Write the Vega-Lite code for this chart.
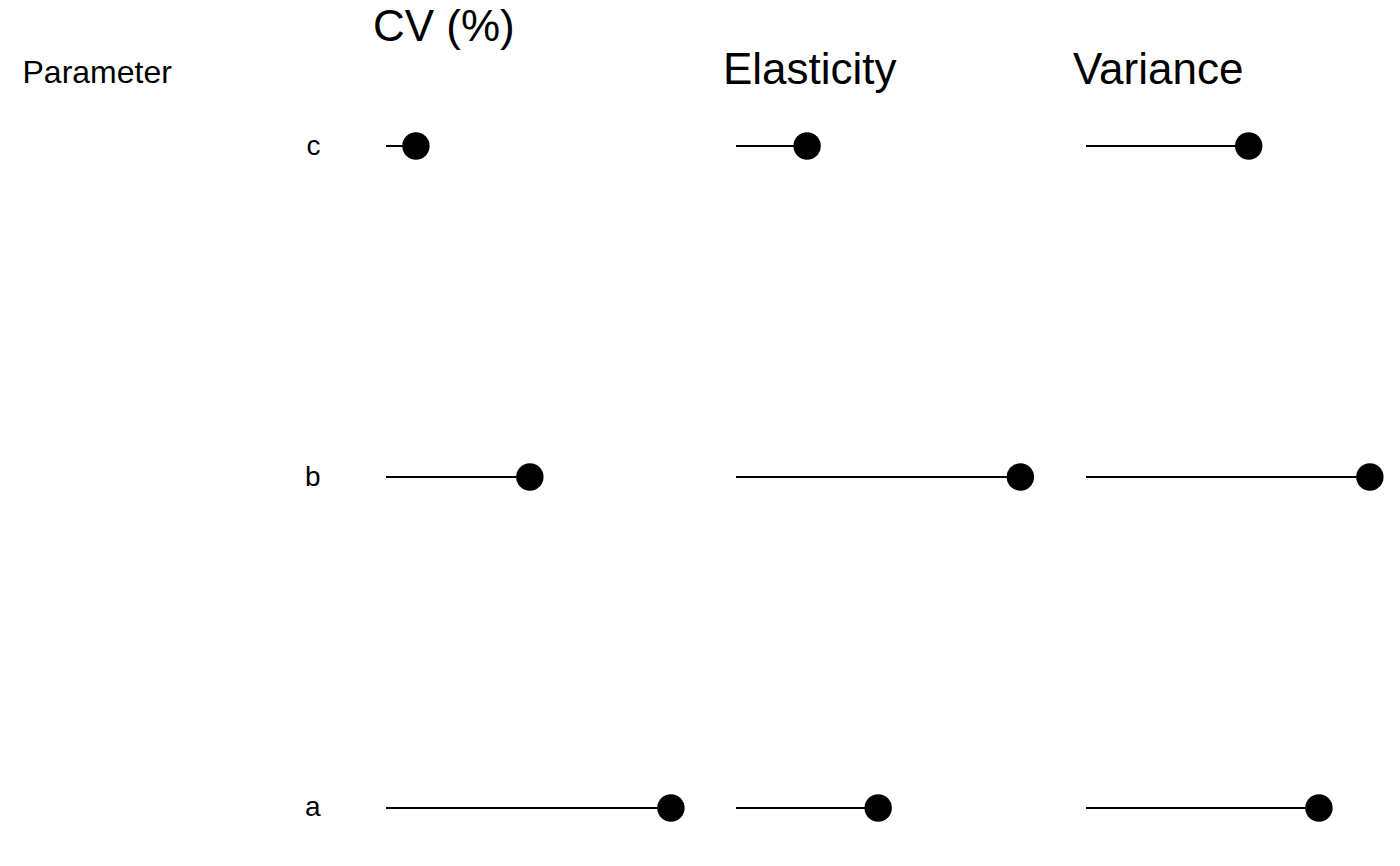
{
  "$schema": "https://vega.github.io/schema/vega-lite/v6.json",
  "padding": {"left": 22, "top": 6, "right": 5, "bottom": 5},
  "background": "white",
  "bounds": "flush",
  "spacing": 50,
  "data": {"values": [
    {"param": "c", "metric": "CV (%)", "value": 10.5},
    {"param": "b", "metric": "CV (%)", "value": 50.5},
    {"param": "a", "metric": "CV (%)", "value": 100},
    {"param": "c", "metric": "Elasticity", "value": 0.5},
    {"param": "b", "metric": "Elasticity", "value": 2.0},
    {"param": "a", "metric": "Elasticity", "value": 1.0},
    {"param": "c", "metric": "Variance", "value": 3.13},
    {"param": "b", "metric": "Variance", "value": 5.46},
    {"param": "a", "metric": "Variance", "value": 4.48}
  ]},
  "config": {
    "view": {"stroke": null},
    "font": "Liberation Sans",
    "axis": {"grid": false, "domain": false, "ticks": false, "labelColor": "#4d4d4d", "labelFontSize": 27, "labelPadding": 14},
    "title": {"fontSize": 44, "fontWeight": "normal", "anchor": "start", "frame": "group", "color": "black", "dx": -13, "offset": 6}
  },
  "hconcat": [
    {
      "title": "CV (%)",
      "width": 300, "height": 756,
      "transform": [{"filter": "datum.metric == 'CV (%)'"}],
      "encoding": {
        "y": {"field": "param", "type": "nominal", "sort": ["c", "b", "a"],
          "scale": {"type": "point", "padding": 0.142},
          "axis": {"title": "Parameter", "titleAngle": 0, "titleAlign": "left", "titleBaseline": "top",
            "titleX": -364, "titleY": -42, "titleFontSize": 32, "titleFontWeight": "normal",
            "labelColor": "black", "labelFontSize": 28, "labelPadding": 66}},
        "x": {"field": "value", "type": "quantitative", "title": null,
          "scale": {"domain": [0, 105.3], "nice": false}, "axis": {"values": [0, 25, 50, 75, 100], "labelFontSize": 27}}
      },
      "layer": [
        {"mark": {"type": "rule", "strokeWidth": 2, "color": "black", "clip": true}, "encoding": {"x2": {"datum": 0}}},
        {"mark": {"type": "circle", "size": 750, "opacity": 1, "color": "black", "clip": true}}
      ]
    },
    {
      "title": "Elasticity",
      "width": 300, "height": 756,
      "transform": [{"filter": "datum.metric == 'Elasticity'"}],
      "encoding": {
        "y": {"field": "param", "type": "nominal", "sort": ["c", "b", "a"],
          "scale": {"type": "point", "padding": 0.142}, "axis": null},
        "x": {"field": "value", "type": "quantitative", "title": null,
          "scale": {"domain": [0, 2.11], "nice": false},
          "axis": {"values": [0, 0.5, 1, 1.5, 2], "format": ".1f", "labelFontSize": 27}}
      },
      "layer": [
        {"mark": {"type": "rule", "strokeWidth": 2, "color": "black", "clip": true}, "encoding": {"x2": {"datum": 0}}},
        {"mark": {"type": "circle", "size": 750, "opacity": 1, "color": "black", "clip": true}}
      ]
    },
    {
      "title": "Variance",
      "width": 300, "height": 756,
      "transform": [{"filter": "datum.metric == 'Variance'"}],
      "encoding": {
        "y": {"field": "param", "type": "nominal", "sort": ["c", "b", "a"],
          "scale": {"type": "point", "padding": 0.142}, "axis": null},
        "x": {"field": "value", "type": "quantitative", "title": null,
          "scale": {"domain": [0, 5.77], "nice": false}, "axis": {"values": [0, 2, 4], "labelFontSize": 27}}
      },
      "layer": [
        {"mark": {"type": "rule", "strokeWidth": 2, "color": "black", "clip": true}, "encoding": {"x2": {"datum": 0}}},
        {"mark": {"type": "circle", "size": 750, "opacity": 1, "color": "black", "clip": true}}
      ]
    }
  ]
}
